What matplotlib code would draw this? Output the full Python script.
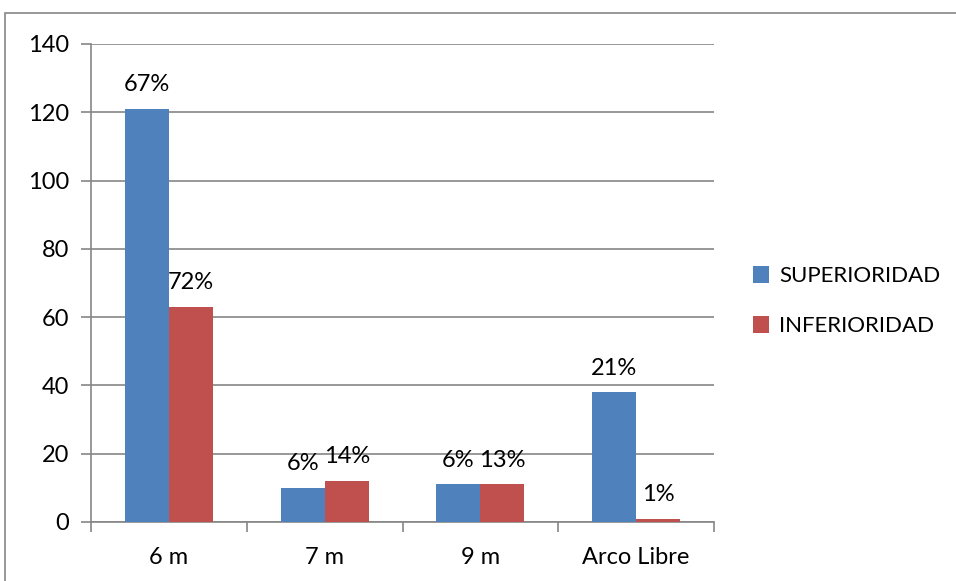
import matplotlib.pyplot as plt
import numpy as np
from matplotlib.patches import Rectangle

plt.rcParams['font.family'] = ['Lato', 'DejaVu Sans']

# goal counts by throwing distance
categories = ['6 m', '7 m', '9 m', 'Arco Libre']
superioridad = [121, 10, 11, 38]
inferioridad = [63, 12, 11, 1]
series_names = ['SUPERIORIDAD', 'INFERIORIDAD']
colors = ['#4F81BD', '#C0504D']
grid_color = '#868686'

fig = plt.figure(figsize=(9.56, 5.81), dpi=100)
ax = fig.add_axes([91 / 956, 1 - 522 / 581, (714 - 91) / 956, (522 - 44) / 581])

# outer chart frame
fig.patches.append(Rectangle((5 / 956, -0.1), 1.2, 1 - 13 / 581 + 0.1,
                             transform=fig.transFigure, fill=False,
                             edgecolor=grid_color, linewidth=1.2, zorder=0))

x = np.arange(len(categories))
w = 0.283
for vals, off, name, c in [(superioridad, -w / 2, series_names[0], colors[0]),
                           (inferioridad, w / 2, series_names[1], colors[1])]:
    total = sum(vals)
    bars = ax.bar(x + off, vals, w, color=c, label=name, zorder=3)
    for b, v in zip(bars, vals):
        ax.text(b.get_x() + b.get_width() / 2, v + 4, f'{round(100 * v / total)}%',
                ha='center', va='bottom', fontsize=17)

ax.set_xlim(-0.5, len(categories) - 0.5)
ax.set_ylim(0, 140)
ax.set_yticks(range(0, 141, 20))
ax.yaxis.grid(True, color=grid_color, linewidth=1.2, zorder=0)
ax.set_axisbelow(True)

ax.set_xticks(x)
ax.set_xticklabels(categories, fontsize=17)
ax.set_xticks(np.arange(-0.5, len(categories)), minor=True)
ax.tick_params(axis='x', which='major', length=0, pad=18)
ax.tick_params(axis='x', which='minor', length=7, color=grid_color, width=1.2)
ax.tick_params(axis='y', length=7, color=grid_color, width=1.2, labelsize=17, pad=9)

for s in ['top', 'right']:
    ax.spines[s].set_visible(False)
for s in ['left', 'bottom']:
    ax.spines[s].set_color(grid_color)
    ax.spines[s].set_linewidth(1.2)

ax.legend(loc='center left', bbox_to_anchor=(1.03, 0.462), frameon=False,
          fontsize=16, handlelength=0.75, handleheight=0.75, handletextpad=0.45,
          labelspacing=1.35)

fig.savefig('out.png', dpi=100)
